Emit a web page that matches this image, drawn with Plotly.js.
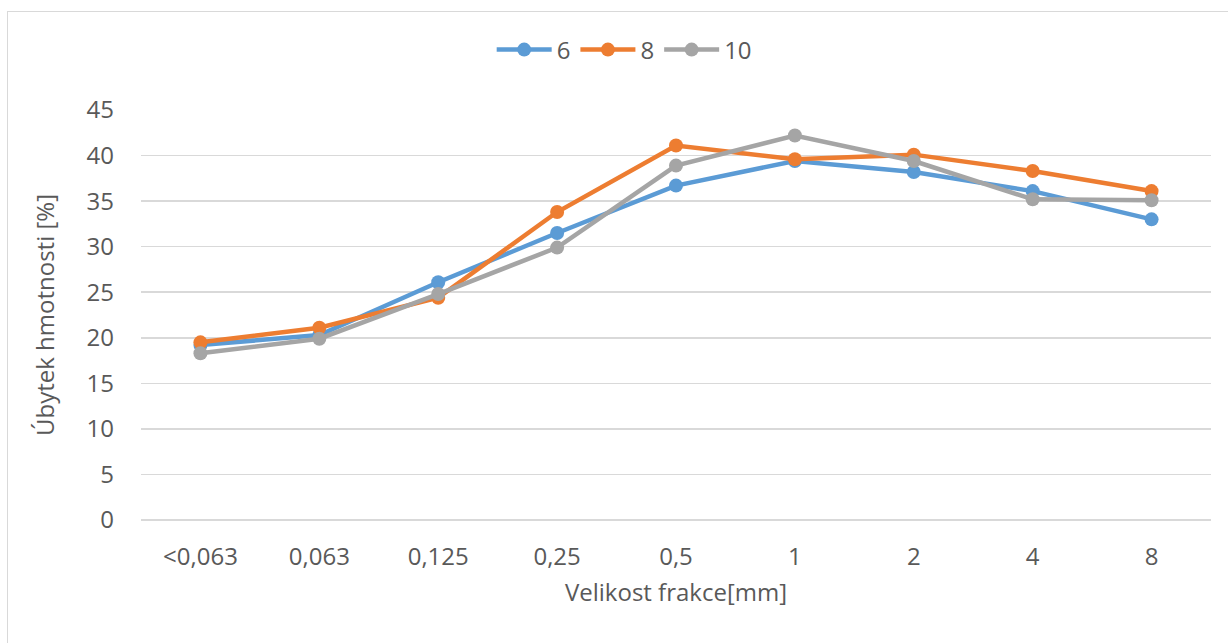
<!DOCTYPE html>
<html>
<head>
<meta charset="utf-8">
<script src="https://cdn.plot.ly/plotly-3.0.1.min.js"></script>
<style>
  html, body { margin: 0; padding: 0; background: #fff; }
  #wrap { position: relative; width: 1228px; height: 643px; }
  #frame { position: absolute; left: 7px; top: 11px; width: 1240px; height: 660px;
           border-left: 1.5px solid #d9d9d9; border-top: 1.5px solid #d9d9d9; pointer-events: none; }
  #chart { position: absolute; left: 0; top: 0; width: 1228px; height: 643px; }
</style>
</head>
<body>
<div id="wrap">
  <div id="chart"></div>
  <div id="frame"></div>
</div>
<script>
const categories = ["<0,063", "0,063", "0,125", "0,25", "0,5", "1", "2", "4", "8"];
const seriesNames = ["6", "8", "10"];
const values6  = [19.2, 20.3, 26.1, 31.5, 36.7, 39.4, 38.2, 36.1, 33.0];
const values8  = [19.5, 21.1, 24.4, 33.8, 41.1, 39.6, 40.1, 38.3, 36.1];
const values10 = [18.3, 19.9, 24.8, 29.9, 38.9, 42.2, 39.4, 35.2, 35.1];
const yTicks = [0, 5, 10, 15, 20, 25, 30, 35, 40, 45];

const colors = ["#5B9BD5", "#ED7D31", "#A5A5A5"];
const allValues = [values6, values8, values10];
const FONT = "Open Sans, Noto Sans, sans-serif";
const TXT = "#595959";

const traces = allValues.map((v, i) => ({
  type: "scatter",
  mode: "lines+markers",
  name: seriesNames[i],
  x: categories,
  y: v,
  line: { color: colors[i], width: 4.5 },
  marker: { color: colors[i], size: 14 },
  cliponaxis: false
}));

const L = 141, R = 1210.6, T = 110, B = 520;
const layout = {
  width: 1228, height: 643,
  margin: { l: L, r: 1228 - R, t: T, b: 643 - B, pad: 0 },
  paper_bgcolor: "#ffffff",
  plot_bgcolor: "#ffffff",
  font: { family: FONT, size: 24, color: TXT },
  showlegend: true,
  legend: {
    orientation: "h",
    x: (624 - L) / (R - L), xanchor: "center",
    y: 1 + (110 - 50) / (B - T), yanchor: "middle",
    font: { family: FONT, size: 24, color: TXT },
    itemwidth: 55,
    itemclick: false,
    traceorder: "normal"
  },
  xaxis: {
    type: "category",
    range: [-0.5, 8.5],
    showgrid: false,
    zeroline: false,
    showline: false,
    ticks: "",
    tickfont: { family: FONT, size: 24, color: TXT },
    ticklabelstandoff: 20,
    title: { text: "Velikost frakce[mm]", font: { family: FONT, size: 24, color: TXT }, standoff: 13 },
    fixedrange: true
  },
  yaxis: {
    range: [0, 45],
    tickvals: yTicks,
    ticktext: yTicks.map(String),
    showgrid: true,
    gridcolor: "#d9d9d9",
    gridwidth: 1.5,
    zeroline: true,
    zerolinecolor: "#d9d9d9",
    zerolinewidth: 1.5,
    showline: false,
    ticks: "",
    tickfont: { family: FONT, size: 24, color: TXT },
    ticklabelstandoff: 26,
    title: { text: "Úbytek hmotnosti [%]", font: { family: FONT, size: 24, color: TXT }, standoff: 25 },
    fixedrange: true
  }
};

Plotly.newPlot("chart", traces, layout, { displayModeBar: false, staticPlot: true });
</script>
</body>
</html>
